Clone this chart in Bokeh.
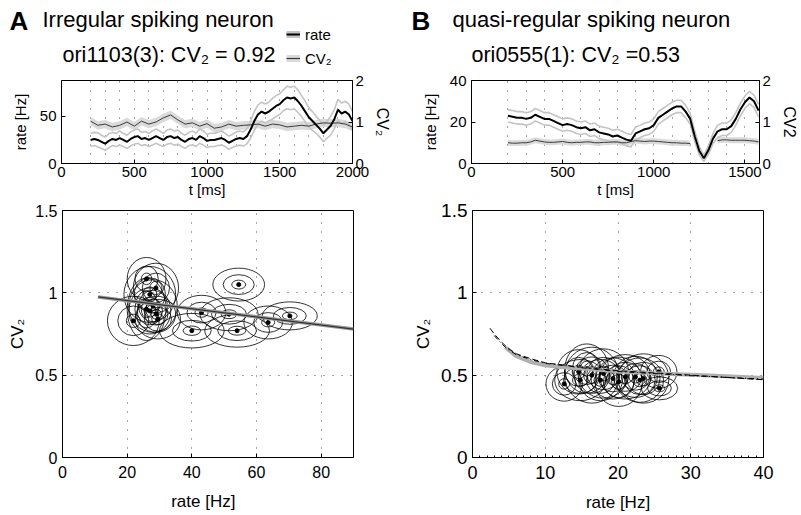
import math
from bokeh.plotting import figure
from bokeh.models import (Range1d, LinearAxis, Label, Legend, LegendItem,
                          FixedTicker, ColumnDataSource)
from bokeh.layouts import row, column
from bokeh.embed import file_html
from bokeh.resources import INLINE

FONT = "Liberation Sans"
NARROW = "Liberation Sans Narrow, Liberation Sans"

# ---------------- data: panel A, time course ----------------
tA = list(range(200, 2001, 25))
rateA = [25, 26, 25, 23, 21, 24, 26, 25, 27, 25, 23, 26, 28, 29, 26, 27, 25, 27,
         29, 27, 25, 28, 29, 27, 28, 25, 23, 26, 27, 25, 29, 27, 24, 25, 25, 26,
         27, 25, 22, 24, 26, 27, 26, 29, 36, 45, 52, 55, 53, 55, 58, 61, 63, 67,
         70, 69, 70, 66, 61, 55, 49, 45, 41, 37, 32, 36, 40, 47, 57, 53, 55, 52, 45]
rateA_err = [7, 7, 7.5, 7, 7, 7.5, 7, 7, 7.5, 7, 7, 7.5, 7.5, 7.5, 7, 7, 7, 7.5,
             7.5, 7.5, 7, 7.5, 7.5, 7.5, 7.5, 7, 7, 7, 7.5, 7, 7.5, 7.5, 7, 7, 7, 7,
             7.5, 7, 7, 7, 7.5, 7.5, 7.5, 8, 9, 10, 10, 10, 10, 10, 11, 11, 11, 11,
             12, 12, 12, 12, 11, 11, 10, 10, 9, 9, 9, 9, 10, 10, 11, 11, 11, 11, 10]
tA_cv = list(range(200, 2001, 50))
cvA = [1.02, 0.92, 0.95, 0.88, 0.92, 1.0, 0.9, 1.02, 0.95, 1.0, 1.1, 1.17, 1.05,
       0.95, 0.98, 0.9, 0.96, 0.85, 0.88, 0.95, 0.9, 0.92, 0.93, 0.95, 0.9, 0.95,
       0.93, 0.88, 0.9, 0.92, 0.9, 0.95, 0.98, 0.97, 0.98, 0.95, 0.88]
cvA_err = [0.1] * len(cvA)

# ---------------- data: panel B, time course ----------------
tB = list(range(200, 1576, 25))
rateB = [23, 22.5, 22, 22, 21.5, 22, 23.5, 22.5, 21.5, 21.5, 20.5, 19.5, 18.5, 19,
         18.5, 17.5, 17, 17.5, 16, 16.5, 15, 14.5, 14, 13, 13.5, 12.5, 11.5, 11,
         14.5, 15.5, 16.5, 17, 18.5, 22, 23.5, 25, 26.5, 27.5, 27.5, 25, 21.5, 13,
         6, 2.5, 6.5, 12, 15.5, 16.5, 16.5, 18, 21.5, 26, 29.5, 31.8, 30, 25.5]
rateB_err = [3] * 40 + [2.5, 2.5, 2, 1.5, 2, 2.5] + [3] * 10
nan = float("nan")
cvB = [0.50, 0.49, 0.49, 0.50, 0.50, 0.52, 0.56, 0.54, 0.52, 0.51, 0.51, 0.52,
       0.53, 0.51, 0.50, 0.51, 0.51, 0.52, 0.52, 0.50, 0.50, 0.51, 0.51, 0.52,
       0.52, 0.50, 0.50, 0.53, 0.55, 0.54, 0.53, 0.54, 0.54, 0.53, 0.52, 0.51,
       0.50, 0.50, 0.49, 0.49, 0.48, nan, nan, nan, nan, nan, 0.55, 0.57, 0.57,
       0.56, 0.56, 0.56, 0.56, 0.55, 0.54, 0.52]
cvB_err = [0.07] * len(cvB)

# ---------------- data: panel A, CV2 vs rate ----------------
A_rate = [26, 28.9, 27, 28, 27, 29, 21.9, 29.5, 26, 43, 54.5, 40, 54, 63.6, 70.3, 51.5]
A_cv = [1.085, 1.03, 0.99, 0.92, 0.89, 0.87, 0.83, 0.84, 0.9, 0.88, 1.05, 0.77,
        0.77, 0.82, 0.86, 0.87]
A_w = [12, 14, 16, 15, 13, 12, 16, 14, 12, 15, 16, 20, 20, 15, 17, 18]
A_h = [0.26, 0.3, 0.34, 0.32, 0.28, 0.22, 0.3, 0.24, 0.38, 0.21, 0.2, 0.21, 0.2,
       0.2, 0.17, 0.2]
fitA_x = [11, 90]
fitA_y = [0.975, 0.78]

# ---------------- data: panel B, CV2 vs rate ----------------
B_rate = [12.6, 14.6, 14.8, 15.7, 16.4, 17.6, 18, 19.3, 20.1, 21, 22.4, 23, 23.5,
          25.6, 25.7]
B_cv = [0.447, 0.52, 0.47, 0.54, 0.5, 0.47, 0.51, 0.48, 0.46, 0.49, 0.49, 0.47,
        0.48, 0.52, 0.42]
B_w = [5, 6, 7, 6, 7.5, 6, 7, 6, 6.5, 7, 6, 6.5, 7, 5, 5]
B_h = [0.21, 0.27, 0.25, 0.3, 0.34, 0.25, 0.3, 0.25, 0.3, 0.27, 0.25, 0.27, 0.3,
       0.2, 0.14]
fitB_x = [4.5, 6, 8, 10, 12, 15, 20, 25, 30, 35, 40]
fitB_y = [0.67, 0.615, 0.58, 0.56, 0.55, 0.54, 0.523, 0.512, 0.503, 0.493, 0.483]
dash1_x = [2.4, 3, 4, 5, 6, 8, 10, 15, 20, 30, 40]
dash1_y = [0.785, 0.75, 0.7, 0.66, 0.63, 0.6, 0.575, 0.548, 0.527, 0.5, 0.472]
dash2_x = [3.0, 4, 5, 6, 8, 10, 15, 20, 30, 40]
dash2_y = [0.74, 0.69, 0.652, 0.625, 0.595, 0.572, 0.545, 0.522, 0.497, 0.476]

RINGS_A = [0.27, 0.6, 1.0]
RINGS_B = [0.3, 0.65, 1.0]

RATE_BAND = "#c4c4c4"
CV_BAND = "#dadada"
CV_LINE = "#3a3a3a"


def base_style(p, xsize="15px", ysize="15px", xfont=FONT):
    p.outline_line_color = "black"
    p.outline_line_width = 1
    p.background_fill_color = "white"
    p.border_fill_color = "white"
    for ax in p.xaxis:
        ax.major_label_text_font = xfont
        ax.major_label_text_font_size = xsize
        ax.axis_label_text_font = xfont
    for ax in p.yaxis:
        ax.major_label_text_font = FONT
        ax.major_label_text_font_size = ysize
        ax.axis_label_text_font = FONT
    for ax in p.axis:
        ax.axis_line_color = "black"
        ax.major_tick_in = 4
        ax.major_tick_out = 0
        ax.minor_tick_line_color = None
        ax.major_label_text_color = "black"
        ax.axis_label_text_color = "black"
        ax.axis_label_text_font_style = "normal"
    for g in p.grid:
        g.grid_line_color = "black"
        g.grid_line_dash = "1 8"
        g.grid_line_alpha = 0.7


def label(p, x, y, text, size, style="normal"):
    p.add_layout(Label(x=x, y=y, text=text, text_font=FONT, text_font_size=size,
                       text_font_style=style, text_baseline="alphabetic",
                       text_color="black"))


def segments(t, v, e):
    segs, cur = [], []
    for ti, vi, ei in zip(t, v, e):
        if isinstance(vi, float) and math.isnan(vi):
            if cur:
                segs.append(cur)
            cur = []
        else:
            cur.append((ti, vi, ei))
    if cur:
        segs.append(cur)
    return segs


def time_panel(t, rate, rerr, tcv, cv, cerr, xmax, ymax, yticks, xticks,
               width, height, bl, br, bt, bb, cvlabel):
    p = figure(width=width, height=height, x_range=Range1d(0, xmax),
               y_range=Range1d(0, ymax), output_backend="svg", title=None,
               toolbar_location=None, min_border_left=bl, min_border_right=br,
               min_border_top=bt, min_border_bottom=bb)
    p.extra_y_ranges = {"cv": Range1d(0, 2)}
    p.add_layout(LinearAxis(y_range_name="cv", axis_label=cvlabel,
                            ticker=FixedTicker(ticks=[0, 1, 2])), "right")
    p.xaxis.ticker = FixedTicker(ticks=xticks)
    p.yaxis[0].ticker = FixedTicker(ticks=yticks)
    p.xaxis.axis_label = "t [ms]"
    p.yaxis[0].axis_label = "rate [Hz]"
    base_style(p)
    p.ygrid.grid_line_color = None
    p.xgrid.ticker = FixedTicker(ticks=list(range(200, int(xmax) - 50, 100)))
    p.xaxis.major_label_standoff = 3
    p.xaxis.axis_label_standoff = 1
    p.xaxis.axis_label_text_font_size = "15px"
    p.yaxis[0].axis_label_text_font_size = "15px"
    p.yaxis[0].axis_label_standoff = 8
    p.yaxis[1].axis_label_text_font_size = "16px"
    p.yaxis[1].major_label_standoff = 3
    p.yaxis[1].axis_label_standoff = 7

    for seg in segments(tcv, cv, cerr):
        ts = [s[0] for s in seg]
        p.varea(x=ts, y1=[s[1] - s[2] for s in seg], y2=[s[1] + s[2] for s in seg],
                fill_color=CV_BAND, y_range_name="cv")
    hi = [r + e for r, e in zip(rate, rerr)]
    lo = [r - e for r, e in zip(rate, rerr)]
    p.line(t, hi, line_color=RATE_BAND, line_width=1.6)
    p.line(t, lo, line_color=RATE_BAND, line_width=1.6)
    p.line(tcv, cv, line_color=CV_LINE, line_width=1, y_range_name="cv")
    p.line(t, rate, line_color="black", line_width=2)
    return p


def scatter_panel(xs, ys, ws, hs, rings, xmax, xticks, width, height, bl, br, bt, bb,
                  xsize, ysize):
    p = figure(width=width, height=height, x_range=Range1d(0, xmax),
               y_range=Range1d(0, 1.5), output_backend="svg", toolbar_location=None,
               title=None, min_border_left=bl, min_border_right=br, min_border_top=bt,
               min_border_bottom=bb)
    p.xaxis.ticker = FixedTicker(ticks=xticks)
    p.yaxis.ticker = FixedTicker(ticks=[0, 0.5, 1, 1.5])
    p.xaxis.axis_label = "rate [Hz]"
    p.yaxis.axis_label = "CV\u2082"
    base_style(p, xsize=xsize, ysize=ysize, xfont=NARROW)
    p.xgrid.ticker = FixedTicker(ticks=[v for v in xticks if 0 < v < xmax])
    p.ygrid.ticker = FixedTicker(ticks=[0.5, 1.0])
    p.xaxis.axis_label_text_font_size = "17px"
    p.yaxis.axis_label_text_font_size = "17px"
    p.xaxis.major_label_standoff = 8
    p.xaxis.axis_label_standoff = 11
    ex, ey, ew, eh = [], [], [], []
    for k in rings:
        for x, y, w, h in zip(xs, ys, ws, hs):
            ex.append(x); ey.append(y); ew.append(w * k); eh.append(h * k)
    src = ColumnDataSource(dict(x=ex, y=ey, w=ew, h=eh))
    p.ellipse(x="x", y="y", width="w", height="h", source=src, fill_color=None,
              line_color="black", line_width=0.8)
    p.scatter(xs, ys, size=4, color="black")
    return p


# ---------------- titles (one full-width strip) ----------------
TW, TH = 800, 70
tf = figure(width=TW, height=TH, x_range=Range1d(0, TW), y_range=Range1d(0, TH),
            output_backend="svg", toolbar_location=None, min_border=0, title=None,
            x_axis_location=None, y_axis_location=None)
tf.grid.visible = False
tf.outline_line_color = None
tf.background_fill_color = "white"
tf.border_fill_color = "white"
label(tf, 9, 50, "A", "26px", "bold")
label(tf, 42, 51, "Irregular spiking neuron", "22px")
label(tf, 62, 16, "ori1103(3): CV\u2082 = 0.92", "21.5px")
label(tf, 411, 50, "B", "26px", "bold")
label(tf, 452, 51, "quasi-regular spiking neuron", "22px")
label(tf, 471, 16, "ori0555(1): CV\u2082 =0.53", "21.5px")

# legend keys: the panel-A series, kept hidden in this strip (legend only)
tf.extra_x_ranges = {"t": Range1d(0, 2000)}
tf.extra_y_ranges = {"rate": Range1d(0, 88), "cv": Range1d(0, 2)}
kr_band = tf.line(tA, rateA, line_color=RATE_BAND, line_width=7, visible=False,
                  x_range_name="t", y_range_name="rate")
kr_line = tf.line(tA, rateA, line_color="black", line_width=2, visible=False,
                  x_range_name="t", y_range_name="rate")
kc_band = tf.line(tA_cv, cvA, line_color=CV_BAND, line_width=7, visible=False,
                  x_range_name="t", y_range_name="cv")
kc_line = tf.line(tA_cv, cvA, line_color=CV_LINE, line_width=1.2, visible=False,
                  x_range_name="t", y_range_name="cv")
legA = Legend(items=[LegendItem(label="rate", renderers=[kr_band, kr_line]),
                     LegendItem(label="CV\u2082", renderers=[kc_band, kc_line])],
              location=(286, 2), orientation="vertical", padding=0, spacing=4,
              margin=0, glyph_width=14, glyph_height=20, label_standoff=5,
              label_text_font=FONT, label_text_font_size="15px",
              label_text_color="black", inactive_fill_alpha=0,
              background_fill_alpha=0, border_line_alpha=0)
tf.add_layout(legA)

# ---------------- top plots ----------------
pA1 = time_panel(tA, rateA, rateA_err, tA_cv, cvA, cvA_err, 2000, 88,
                 [0, 50], [0, 500, 1000, 1500, 2000],
                 406, 131, 61, 54, 10, 38, "CV\u2082")
pB1 = time_panel(tB, rateB, rateB_err, tB, cvB, cvB_err, 1580, 40,
                 [0, 20, 40], [0, 500, 1000, 1500],
                 394, 131, 65, 38, 10, 38, "CV2")

# ---------------- bottom A ----------------
pA2 = scatter_panel(A_rate, A_cv, A_w, A_h, RINGS_A, 90, [0, 20, 40, 60, 80],
                    406, 313, 62, 53, 9, 55, "16px", "16px")
pA2.xaxis.axis_label = "rate   [Hz]"
pA2.line(fitA_x, fitA_y, line_color="#9a9a9a", line_width=3.5)
pA2.line(fitA_x, fitA_y, line_color="#333333", line_width=1.2)

# ---------------- bottom B ----------------
pB2 = scatter_panel(B_rate, B_cv, B_w, B_h, RINGS_B, 40, [0, 10, 20, 30, 40],
                    394, 313, 66, 37, 9, 55, "18px", "19px")
pB2.xaxis.ticker = FixedTicker(ticks=[0, 10, 20, 30, 40], minor_ticks=list(range(0, 41)))
pB2.xaxis.minor_tick_line_color = "black"
pB2.xaxis.minor_tick_in = 2
pB2.xaxis.minor_tick_out = 0
pB2.line(fitB_x, fitB_y, line_color="#b0b0b0", line_width=4)
pB2.line(dash1_x, dash1_y, line_color="black", line_width=1, line_dash="6 3")
pB2.line(dash2_x, dash2_y, line_color="black", line_width=1, line_dash="5 3 1 3")

layout = column(tf, row(pA1, pB1), row(pA2, pB2))
open("out.html", "w").write(file_html(layout, INLINE))
